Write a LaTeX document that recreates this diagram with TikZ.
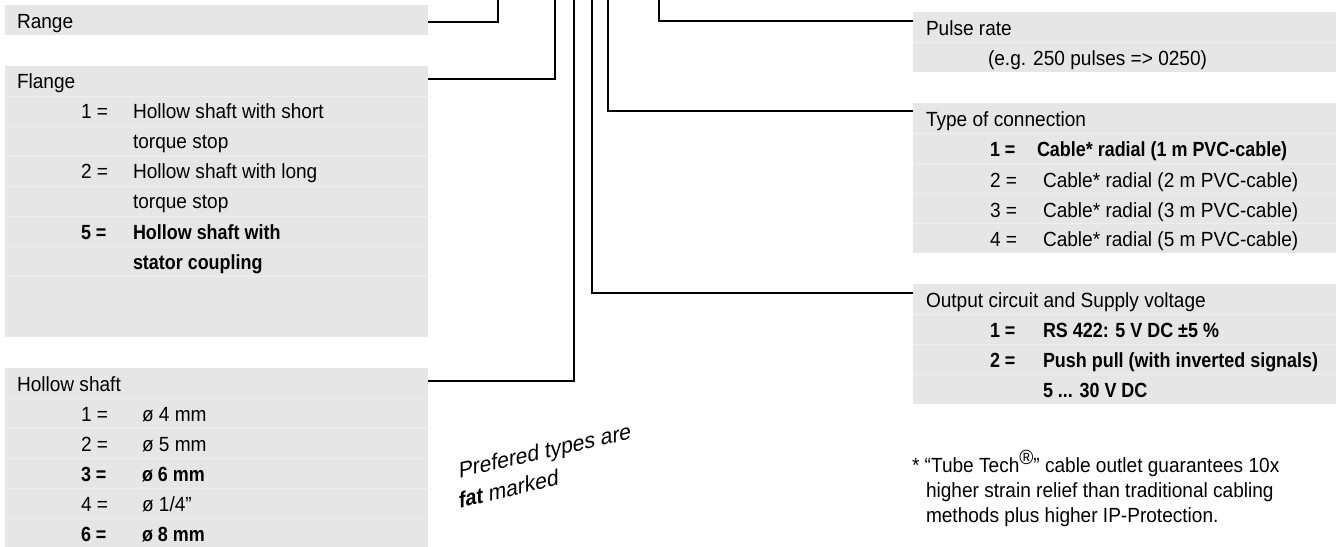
\documentclass[tikz,border=0pt]{standalone}
\usepackage{fontspec}
\setmainfont{Liberation Sans}[FakeStretch=0.93]
\newfontfamily\boldf{Liberation Sans Bold}[FakeStretch=0.875]
\definecolor{boxgray}{RGB}{230,230,230}
\definecolor{rowline}{RGB}{238,238,238}
\begin{document}
\begin{tikzpicture}[x=1pt,y=-1pt,
  every node/.style={inner sep=0pt, outer sep=0pt},
  txt/.style={anchor=base west, font=\fontsize{20.5}{24}\selectfont},
  btxt/.style={anchor=base west, font=\fontsize{20.5}{24}\selectfont\boldf},
  notetxt/.style={anchor=base west, transform shape, font=\fontsize{22.5}{29.5}\selectfont},
  infobox/.style={fill=boxgray, draw=none, anchor=north west, minimum width=423pt},
  conn/.style={line width=2pt, black},
  rowsep/.style={rowline, line width=0.8pt}]
\useasboundingbox (0,0) rectangle (1340,546);

% boxes
\node[infobox, minimum height=30pt]  (range)  at (5,5)    {};
\node[infobox, minimum height=271pt] (flange) at (5,66)   {};
\node[infobox, minimum height=180pt] (hollow) at (5,368)  {};
\node[infobox, minimum height=60pt]  (pulse)  at (913,12) {};
\node[infobox, minimum height=150pt] (ctype)  at (913,103){};
\node[infobox, minimum height=120pt] (outc)   at (913,284){};

% row separators
\foreach \yy in {96,126,156,186,216,246,276} \draw[rowsep] (5,\yy) -- (428,\yy);
\foreach \yy in {398,428,458,488,518} \draw[rowsep] (5,\yy) -- (428,\yy);
\foreach \yy in {42} \draw[rowsep] (913,\yy) -- (1336,\yy);
\foreach \yy in {133,163,193,223} \draw[rowsep] (913,\yy) -- (1336,\yy);
\foreach \yy in {314,344,374} \draw[rowsep] (913,\yy) -- (1336,\yy);

% connector tops
\coordinate (tr) at (498,-1);
\coordinate (tf) at (555,-1);
\coordinate (th) at (574,-1);
\coordinate (to) at (592,-1);
\coordinate (tt) at (608,-1);
\coordinate (tp) at (659,-1);

\draw[conn] ([yshift=-2pt]range.east) -| (tr);
\draw[conn] ([yshift=-13pt]flange.north east) -| (tf);
\draw[conn] ([yshift=-13pt]hollow.north east) -| (th);
\draw[conn] ([yshift=-9pt]outc.north west) -| (to);
\draw[conn] ([yshift=-8pt]ctype.north west) -| (tt);
\draw[conn] ([yshift=-9pt]pulse.north west) -| (tp);

% Range
\node[txt] (rangeT) at (17,28) {Range};

% Flange
\node[txt] (flT) at (17,88) {Flange};
\node[txt] (fl1n) at (81,118) {1 =};
\node[txt] (fl1a) at (133,118) {Hollow shaft with short};
\node[txt] (fl1b) at (133,148) {torque stop};
\node[txt] (fl2n) at (81,178) {2 =};
\node[txt] (fl2a) at (133,178) {Hollow shaft with long};
\node[txt] (fl2b) at (133,208) {torque stop};
\node[btxt] (fl5n) at (81,239) {5 =};
\node[btxt] (fl5a) at (133,239) {Hollow shaft with};
\node[btxt] (fl5b) at (133,269) {stator coupling};

% Hollow shaft
\node[txt] (hsT) at (17,391) {Hollow shaft};
\node[txt] (hs1n) at (81,421) {1 =};
\node[txt] (hs1) at (142,421) {ø 4 mm};
\node[txt] (hs2n) at (81,451) {2 =};
\node[txt] (hs2) at (142,451) {ø 5 mm};
\node[btxt] (hs3n) at (81,481) {3 =};
\node[btxt] (hs3) at (142,481) {ø 6 mm};
\node[txt] (hs4n) at (81,511) {4 =};
\node[txt] (hs4) at (142,511) {ø 1/4”};
\node[btxt] (hs6n) at (81,541) {6 =};
\node[btxt] (hs6) at (142,541) {ø 8 mm};

% Pulse rate
\node[txt] (prT) at (926,35) {Pulse rate};
\node[txt] (pr1) at (988,65) {(e.g. 250 pulses => 0250)};

% Type of connection
\node[txt] (tcT) at (926,126) {Type of connection};
\node[btxt] (tc1n) at (990,156) {1 =};
\node[btxt] (tc1) at (1037,156) {Cable* radial (1 m PVC-cable)};
\node[txt] (tc2n) at (990,187) {2 =};
\node[txt] (tc2) at (1043,187) {Cable* radial (2 m PVC-cable)};
\node[txt] (tc3n) at (990,217) {3 =};
\node[txt] (tc3) at (1043,217) {Cable* radial (3 m PVC-cable)};
\node[txt] (tc4n) at (990,246) {4 =};
\node[txt] (tc4) at (1043,246) {Cable* radial (5 m PVC-cable)};

% Output circuit
\node[txt] (ocT) at (926,307) {Output circuit and Supply voltage};
\node[btxt] (oc1n) at (990,337) {1 =};
\node[btxt] (oc1) at (1043,337) {RS 422: 5 V DC ±5 \%};
\node[btxt] (oc2n) at (990,367) {2 =};
\node[btxt] (oc2) at (1043,367) {Push pull (with inverted signals)};
\node[btxt] (oc2b) at (1043,397) {5 ... 30 V DC};

% preferred note (sheared)
\begin{scope}[shift={(459,478)}, yslant=0.228]
\node[notetxt] (pref1) at (0,0) {Prefered types are};
\node[notetxt] (pref2) at (0,30) {{\boldf fat} marked};
\end{scope}

% footnote
\node[txt] (fn1) at (912,472) {* “Tube Tech\raisebox{8pt}{®}” cable outlet guarantees 10x};
\node[txt] (fn2) at (926,497) {higher strain relief than traditional cabling};
\node[txt] (fn3) at (926,522) {methods plus higher IP-Protection.};
\end{tikzpicture}
\end{document}
